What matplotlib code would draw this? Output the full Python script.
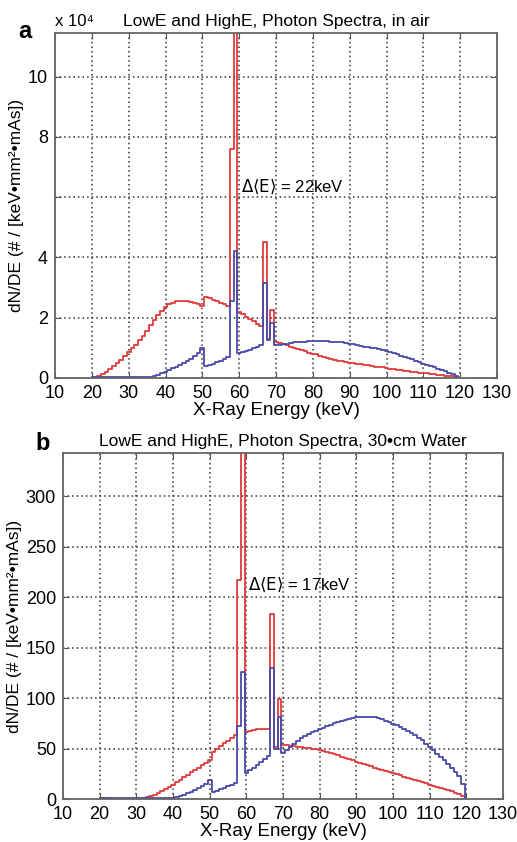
import matplotlib
matplotlib.use("Agg")
import matplotlib.pyplot as plt
import numpy as np

plt.rcParams["font.family"] = ["Liberation Sans", "DejaVu Sans"]

# photon energy bins, 1 keV wide (keV)
energy = np.arange(20, 121)

# panel a: in air, units of 1e4
low_air = [
    0.00, 0.02, 0.06, 0.12, 0.20, 0.30, 0.40, 0.50, 0.60, 0.72,
    0.85, 0.98, 1.10, 1.25, 1.40, 1.57, 1.75, 1.92, 2.08, 2.22,
    2.35, 2.44, 2.50, 2.55, 2.57, 2.57, 2.56, 2.53, 2.50, 2.45,
    2.40, 2.68, 2.64, 2.60, 2.55, 2.50, 2.45, 2.40, 7.60, 13.0,
    2.20, 2.12, 2.04, 1.96, 1.88, 1.80, 1.74, 4.50, 1.30, 2.27,
    1.21, 1.17, 1.13, 1.09, 1.04, 0.99, 0.96, 0.92, 0.88, 0.84,
    0.81, 0.78, 0.74, 0.70, 0.66, 0.63, 0.60, 0.58, 0.55, 0.53,
    0.51, 0.49, 0.47, 0.46, 0.44, 0.42, 0.40, 0.38, 0.36, 0.35,
    0.33, 0.31, 0.29, 0.27, 0.25, 0.24, 0.22, 0.21, 0.20, 0.18,
    0.17, 0.16, 0.14, 0.13, 0.11, 0.10, 0.08, 0.07, 0.05, 0.03,
    0.00,
]
high_air = [
    0.02, 0.02, 0.02, 0.02, 0.02, 0.02, 0.02, 0.02, 0.02, 0.02,
    0.02, 0.02, 0.02, 0.02, 0.02, 0.02, 0.03, 0.06, 0.10, 0.15,
    0.20, 0.26, 0.32, 0.38, 0.44, 0.50, 0.56, 0.63, 0.72, 0.82,
    0.98, 0.40, 0.44, 0.48, 0.52, 0.57, 0.62, 0.70, 2.55, 4.20,
    0.82, 0.86, 0.90, 0.94, 0.98, 1.02, 1.08, 3.16, 1.25, 1.83,
    1.08, 1.10, 1.12, 1.14, 1.16, 1.18, 1.19, 1.20, 1.21, 1.22,
    1.23, 1.23, 1.23, 1.22, 1.22, 1.21, 1.20, 1.19, 1.18, 1.16,
    1.14, 1.12, 1.09, 1.06, 1.04, 1.02, 1.00, 0.98, 0.96, 0.93,
    0.90, 0.86, 0.82, 0.78, 0.74, 0.70, 0.66, 0.62, 0.57, 0.52,
    0.47, 0.43, 0.39, 0.35, 0.31, 0.27, 0.22, 0.17, 0.12, 0.06,
    0.00,
]

# panel b: behind 30 cm water
low_water = [
    0.5, 0.5, 0.5, 0.2, 0.2, 0.2, 0.2, 0.2, 0.2, 0.2,
    0.2, 0.2, 0.5, 1.5, 2.5, 4.0, 6.0, 8.0, 10.0, 12.0,
    14.0, 16.5, 19.0, 21.5, 24.0, 26.5, 29.0, 31.0, 33.5, 36.0,
    38.5, 47.0, 50.0, 53.0, 55.5, 57.5, 60.5, 63.0, 217.0, 400.0,
    66.5, 67.5, 68.5, 69.0, 69.5, 69.5, 69.5, 183.5, 52.0, 99.0,
    54.0, 53.5, 53.0, 52.5, 52.0, 51.5, 51.0, 50.5, 50.0, 49.3,
    48.7, 47.7, 46.7, 45.7, 44.5, 43.3, 42.0, 40.8, 39.5, 38.2,
    37.0, 36.0, 34.8, 33.6, 32.4, 31.2, 30.0, 28.8, 27.6, 26.5,
    25.5, 24.5, 23.4, 22.3, 21.2, 20.1, 19.0, 17.9, 16.7, 15.5,
    14.2, 13.2, 12.2, 11.2, 10.1, 9.0, 7.7, 6.3, 5.0, 3.0,
    0.0,
]
high_water = [
    0.5, 0.5, 0.5, 0.5, 0.5, 0.5, 0.5, 0.5, 0.5, 0.5,
    0.5, 0.5, 0.5, 0.5, 0.5, 0.5, 0.5, 0.5, 0.5, 0.5,
    0.7, 1.5, 2.5, 4.0, 5.5, 7.0, 8.5, 10.5, 12.5, 15.0,
    18.5, 6.5, 8.0, 9.5, 11.0, 12.5, 14.0, 16.0, 72.0, 126.0,
    26.0, 28.5, 31.0, 34.0, 37.0, 40.0, 43.0, 129.5, 50.0, 81.0,
    46.0, 49.0, 52.0, 55.0, 57.5, 60.0, 62.0, 64.0, 66.0, 67.5,
    69.0, 70.5, 72.0, 73.5, 75.0, 76.5, 77.5, 78.5, 79.5, 80.5,
    81.0, 81.5, 81.5, 81.5, 81.5, 81.0, 80.0, 79.0, 77.5, 76.0,
    74.5, 73.0, 71.5, 69.5, 67.5, 65.5, 63.0, 60.5, 58.0, 55.0,
    52.0, 48.5, 45.0, 41.5, 38.5, 35.0, 31.0, 27.0, 23.0, 15.0,
    0.0,
]

x_ticks = [10, 20, 30, 40, 50, 60, 70, 80, 90, 100, 110, 120, 130]
air_yticks = [0, 2, 4, 6, 8, 10]
air_ylabels = ["0", "2", "4", "", "8", "10"]
water_yticks = [0, 50, 100, 150, 200, 250, 300]

RED = "#e23a3a"
BLUE = "#4a4aa8"
ylabel = "dN/DE (# / [keV•mm²•mAs])"

W, H = 517, 842
fig = plt.figure(figsize=(W / 100, H / 100), dpi=100)


def px_axes(left, top, right, bottom):
    return fig.add_axes([left / W, 1 - bottom / H, (right - left) / W, (bottom - top) / H])


def draw_panel(ax, low, high, ymax, yticks, yticklabels, title, note, note_y):
    ax.step(energy, low, where="mid", color=RED, lw=1.3)
    ax.step(energy, high, where="mid", color=BLUE, lw=1.3)
    ax.set_xlim(10, 130)
    ax.set_ylim(0, ymax)
    ax.set_xticks(x_ticks)
    ax.set_yticks(yticks)
    ax.set_yticklabels(yticklabels)
    ax.grid(True, linestyle=(0, (1, 2)), color="#333333", lw=1.1)
    ax.tick_params(direction="in", length=4, top=True, right=True,
                   labelsize=13, color="#555555", pad=5)
    for s in ax.spines.values():
        s.set_color("#666666")
        s.set_linewidth(1.3)
    ax.set_title(title, fontsize=12.5, pad=5)
    ax.set_xlabel("X-Ray Energy (keV)", fontsize=13.5, labelpad=0)
    ax.set_ylabel(ylabel, fontsize=12.5, labelpad=3)
    ax.text(60.4, note_y, r"$\Delta\langle\mathrm{E}\rangle$ = " + note,
            fontsize=12, va="center", ha="left")


ax1 = px_axes(55, 33, 497, 378)
draw_panel(ax1, low_air, high_air, 11.45, air_yticks, air_ylabels,
           "LowE and HighE, Photon Spectra, in air", "22keV", 6.35)
fig.text(55 / W, 1 - 21 / H, "x 10⁴", fontsize=12, va="center", ha="left")
fig.text(18 / W, 1 - 31 / H, "a", fontsize=17, fontweight="bold", va="center")

ax2 = px_axes(63, 453, 503, 799)
draw_panel(ax2, low_water, high_water, 343, water_yticks,
           [str(v) for v in water_yticks],
           "LowE and HighE, Photon Spectra, 30•cm Water", "17keV", 212)
fig.text(35 / W, 1 - 443 / H, "b", fontsize=17, fontweight="bold", va="center")

fig.savefig("out.png", dpi=100)
